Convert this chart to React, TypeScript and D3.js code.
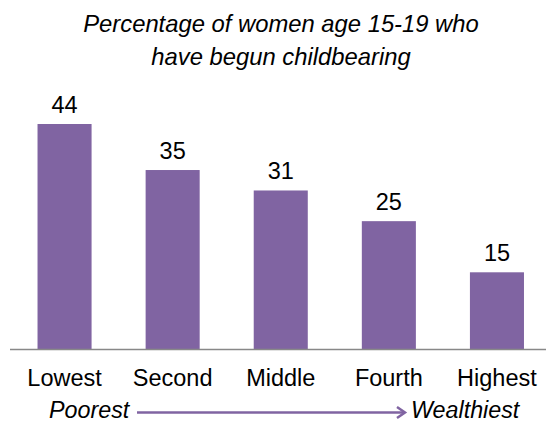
import React from "react";
import * as d3 from "d3";

const categories = ["Lowest", "Second", "Middle", "Fourth", "Highest"];
const values = [44, 35, 31, 25, 15];
const titleLines = ["Percentage of women age 15-19 who", "have begun childbearing"];
const leftNote = "Poorest";
const rightNote = "Wealthiest";

const W = 546;
const H = 423;
const PURPLE = "#8064A2";
const FONT = "'Liberation Sans', Arial, sans-serif";

export default function App() {
  const x = d3.scaleBand<string>().domain(categories).range([10.5, 551]).paddingInner(0.5).paddingOuter(0.25);
  const y = d3.scaleLinear().domain([0, 44]).range([349, 124]);
  const bw = x.bandwidth();
  return (
    <svg width={W} height={H} style={{ position: "absolute", left: 0, top: 0, background: "#fff" }} fontFamily={FONT}>
      <rect x={0} y={0} width={W} height={H} fill="#fff" />
      {titleLines.map((t, i) => (
        <text key={i} x={281} y={32 + i * 33} textAnchor="middle" fontSize={23.8} fontStyle="italic" fill="#000">
          {t}
        </text>
      ))}
      {categories.map((c, i) => (
        <g key={c}>
          <rect x={x(c)} y={y(values[i])} width={bw} height={y(0) - y(values[i])} fill={PURPLE} />
          <text x={(x(c) as number) + bw / 2} y={y(values[i]) - 11} textAnchor="middle" fontSize={23.5} fill="#000">
            {values[i]}
          </text>
          <text x={(x(c) as number) + bw / 2} y={386} textAnchor="middle" fontSize={23.5} fill="#000">
            {c}
          </text>
        </g>
      ))}
      <line x1={10} x2={W} y1={y(0) + 0.5} y2={y(0) + 0.5} stroke="#888" strokeWidth={1.5} />
      <text x={49} y={418} fontSize={23.3} fontStyle="italic" fill="#000">{leftNote}</text>
      <line x1={137} x2={404} y1={412.5} y2={412.5} stroke={PURPLE} strokeWidth={2.5} />
      <path d="M397,407 L405,412.5 L397,418" fill="none" stroke={PURPLE} strokeWidth={2.5} />
      <text x={411} y={418} fontSize={23.3} fontStyle="italic" fill="#000">{rightNote}</text>
    </svg>
  );
}
